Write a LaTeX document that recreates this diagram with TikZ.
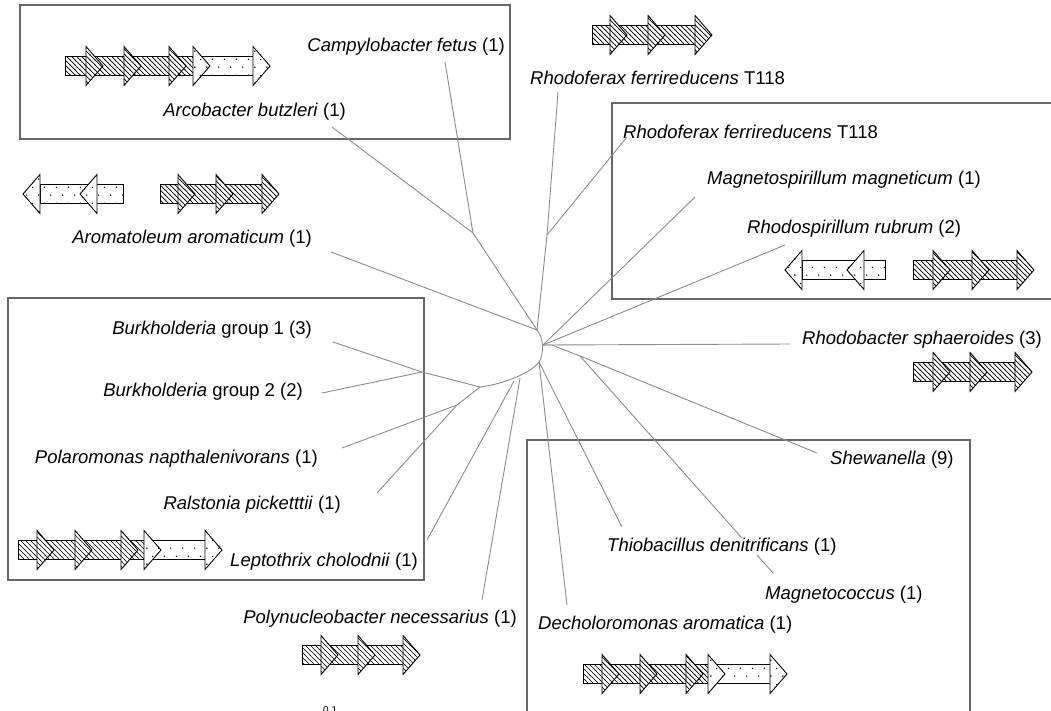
\documentclass[tikz,border=0pt]{standalone}
\usepackage{fontspec}
\setmainfont{Liberation Sans}
\usetikzlibrary{patterns}
\pgfdeclarepatternformonly{hatchnw}{\pgfqpoint{-0.5pt}{-0.5pt}}{\pgfqpoint{5.5pt}{5.5pt}}{\pgfqpoint{5pt}{5pt}}{%
  \pgfsetlinewidth{0.7pt}\pgfpathmoveto{\pgfqpoint{-0.5pt}{5.5pt}}\pgfpathlineto{\pgfqpoint{5.5pt}{-0.5pt}}\pgfusepath{stroke}}
\pgfdeclarepatternformonly{sparsedots}{\pgfpointorigin}{\pgfqpoint{12pt}{16pt}}{\pgfqpoint{12pt}{16pt}}{%
  \pgfpathcircle{\pgfqpoint{3pt}{3pt}}{0.8pt}\pgfpathcircle{\pgfqpoint{9pt}{11pt}}{0.8pt}\pgfusepath{fill}}
\tikzset{
  genep/.style={fill=white,postaction={pattern=#1},postaction={draw=black,line width=0.9pt}},
  br/.style={draw=black!45,line width=0.9pt},
  frame/.style={draw=black!60,line width=1.3pt},
  lab/.style={inner sep=0pt,font=\fontsize{18.5}{22}\selectfont},
}
\newcommand\gbody[4]{\path[genep=#4] (#1,#3-9.5) rectangle (#2,#3+9.5);}
\newcommand\ghr[3]{\path[genep=#3] (#1,#2-19.5) -- ++(17,19.5) -- ++(-17,19.5) -- cycle;}
\newcommand\ghl[3]{\path[genep=#3] (#1,#2-19.5) -- ++(-17,19.5) -- ++(17,19.5) -- cycle;}
\begin{document}
\begin{tikzpicture}[x=1pt,y=-1pt]
\useasboundingbox (0,0) rectangle (1051,710);
\fill[white] (0,0) rectangle (1051,710);
% frames
\draw[frame] (20,5) rectangle (510,139);
\draw[frame] (1051,103) -- (612,103) -- (612,299) -- (1051,299);
\draw[frame] (8,298) rectangle (424,580);
\draw[frame] (527,715) -- (527,440) -- (970,440) -- (970,715);
% tree coordinates
\coordinate (a) at (537,330);
\coordinate (b) at (543,345);
\coordinate (b2) at (552,345);
\coordinate (c) at (539,362);
\coordinate (d) at (520,378);
\coordinate (d2) at (514,381);
\coordinate (e) at (480,387);
\coordinate (j1) at (473,233);
\coordinate (j2) at (547,235);
\coordinate (j3) at (457,405);
\coordinate (j4) at (422,372);
\coordinate (j5) at (580,356);
\coordinate (xcampy) at (445,62);
\coordinate (xarco) at (332,127);
\coordinate (xarom) at (331,252);
\coordinate (xrf1) at (558,92);
\coordinate (xrf2) at (627,137);
\coordinate (xmag) at (695,197);
\coordinate (xrsp) at (785,245);
\coordinate (xrba) at (790,344);
\coordinate (xshe) at (817,453);
\coordinate (xmcc) at (773,573);
\coordinate (xthi) at (622,527);
\coordinate (xdec) at (567,605);
\coordinate (xpol) at (482,600);
\coordinate (xlep) at (427,540);
\coordinate (xral) at (377,493);
\coordinate (xpolar) at (342,448);
\coordinate (xbu1) at (333,342);
\coordinate (xbu2) at (322,393);
% branches
\draw[br] (a) .. controls (544,338) and (544,355) .. (c) .. controls (532,372) and (505,384) .. (e);
\draw[br] (a) -- (j1) -- (xarco);
\draw[br] (j1) -- (xcampy);
\draw[br] (a) -- (xarom);
\draw[br] (a) -- (j2) -- (xrf1);
\draw[br] (j2) -- (xrf2);
\draw[br] (b) -- (xmag);
\draw[br] (b) -- (xrsp);
\draw[br] (b) -- (xrba);
\draw[br] (b) -- (b2) -- (j5) -- (xshe);
\draw[br] (j5) -- (xmcc);
\draw[br] (c) -- (xthi);
\draw[br] (c) -- (xdec);
\draw[br] (d) -- (xpol);
\draw[br] (d2) -- (xlep);
\draw[br] (e) -- (j3) -- (xpolar);
\draw[br] (j3) -- (xral);
\draw[br] (e) -- (j4) -- (xbu1);
\draw[br] (j4) -- (xbu2);
% labels
\node[lab,anchor=base east] (lcampy) at (505,51) {\textit{Campylobacter fetus} (1)};
\node[lab,anchor=base east] (larco) at (346,116) {\textit{Arcobacter butzleri} (1)};
\node[lab,anchor=base west] (lrf1) at (530,84) {\textit{Rhodoferax ferrireducens} T118};
\node[lab,anchor=base west] (lrf2) at (623,138) {\textit{Rhodoferax ferrireducens} T118};
\node[lab,anchor=base west] (lmag) at (707,184) {\textit{Magnetospirillum magneticum} (1)};
\node[lab,anchor=base west] (lrsp) at (747,233) {\textit{Rhodospirillum rubrum} (2)};
\node[lab,anchor=base east] (larom) at (312,243) {\textit{Aromatoleum aromaticum} (1)};
\node[lab,anchor=base east] (lbu1) at (312,334) {\textit{Burkholderia} group 1 (3)};
\node[lab,anchor=base east] (lbu2) at (303,396) {\textit{Burkholderia} group 2 (2)};
\node[lab,anchor=base east] (lpolar) at (318,463) {\textit{Polaromonas napthalenivorans} (1)};
\node[lab,anchor=base east] (lral) at (341,509) {\textit{Ralstonia picketttii} (1)};
\node[lab,anchor=base east] (llep) at (418,566) {\textit{Leptothrix cholodnii} (1)};
\node[lab,anchor=base east] (lpol) at (517,623) {\textit{Polynucleobacter necessarius} (1)};
\node[lab,anchor=base west] (lrba) at (802,344) {\textit{Rhodobacter sphaeroides} (3)};
\node[lab,anchor=base west] (lshe) at (830,464) {\textit{Shewanella} (9)};
\node[lab,anchor=base west,fill=white] (lthi) at (607,551) {\textit{Thiobacillus denitrificans} (1)};
\node[lab,anchor=base west] (lmcc) at (765,599) {\textit{Magnetococcus} (1)};
\node[lab,anchor=base west] (ldec) at (538,629) {\textit{Decholoromonas aromatica} (1)};
\node[inner sep=0pt,font=\fontsize{10}{12}\selectfont,anchor=base west] (scale) at (323,713) {0.1};
% gene clusters
% box 1
\gbody{65}{193}{66}{hatchnw}\gbody{193}{253}{66}{sparsedots}
\ghr{86}{66}{hatchnw}\ghr{124}{66}{hatchnw}\ghr{169}{66}{hatchnw}\ghr{193}{66}{sparsedots}\ghr{253}{66}{sparsedots}
% top
\gbody{592}{695}{35}{hatchnw}
\ghr{610}{35}{hatchnw}\ghr{648}{35}{hatchnw}\ghr{695}{35}{hatchnw}
% Aromatoleum
\gbody{40}{123}{194}{sparsedots}
\ghl{97}{194}{sparsedots}\ghl{40}{194}{sparsedots}
\gbody{160}{262}{194}{hatchnw}
\ghr{178}{194}{hatchnw}\ghr{216}{194}{hatchnw}\ghr{262}{194}{hatchnw}
% box 2
\gbody{802}{885}{270}{sparsedots}
\ghl{864}{270}{sparsedots}\ghl{802}{270}{sparsedots}
\gbody{913}{1017}{270}{hatchnw}
\ghr{933}{270}{hatchnw}\ghr{972}{270}{hatchnw}\ghr{1017}{270}{hatchnw}
% Rhodobacter
\gbody{913}{1015}{372}{hatchnw}
\ghr{933}{372}{hatchnw}\ghr{970}{372}{hatchnw}\ghr{1015}{372}{hatchnw}
% Leptothrix
\gbody{18}{144}{550}{hatchnw}\gbody{144}{205}{550}{sparsedots}
\ghr{37}{550}{hatchnw}\ghr{75}{550}{hatchnw}\ghr{121}{550}{hatchnw}\ghr{144}{550}{sparsedots}\ghr{205}{550}{sparsedots}
% Polynucleobacter
\gbody{302}{403}{655}{hatchnw}
\ghr{321}{655}{hatchnw}\ghr{358}{655}{hatchnw}\ghr{403}{655}{hatchnw}
% Decholoromonas
\gbody{583}{708}{674}{hatchnw}\gbody{708}{770}{674}{sparsedots}
\ghr{602}{674}{hatchnw}\ghr{640}{674}{hatchnw}\ghr{686}{674}{hatchnw}\ghr{708}{674}{sparsedots}\ghr{770}{674}{sparsedots}
\end{tikzpicture}
\end{document}
